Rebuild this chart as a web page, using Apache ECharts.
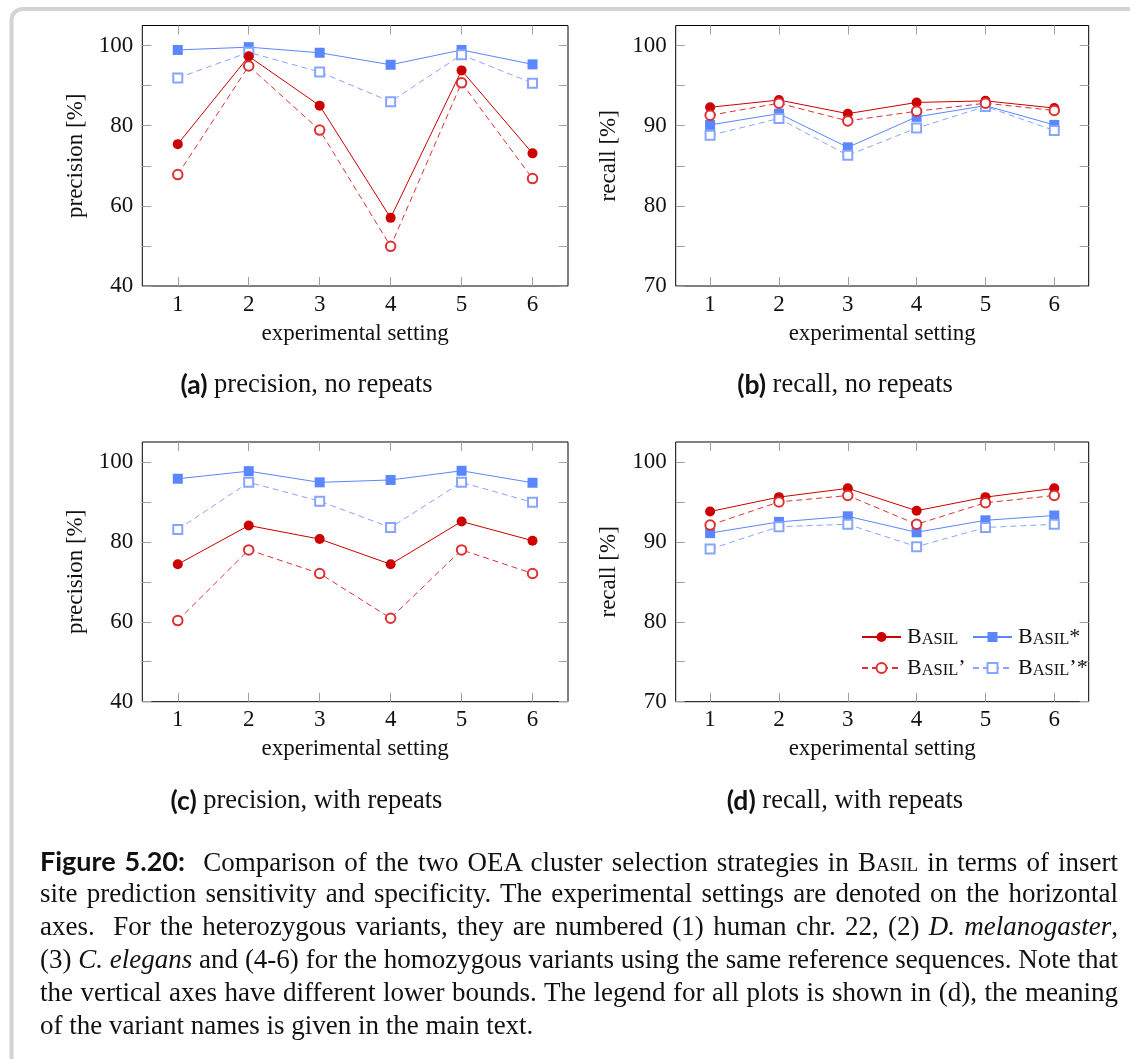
<!DOCTYPE html>
<html>
<head>
<meta charset="utf-8">
<script src="https://cdn.jsdelivr.net/npm/echarts@6/dist/echarts.min.js"></script>
<style>
  html, body { margin: 0; padding: 0; background: #fff; }
  #wrap { position: relative; width: 1130px; height: 1059px; overflow: hidden; }
  #chart { position: absolute; left: 0; top: 0; width: 1130px; height: 1059px; }
  .cap { position: absolute; left: 40px; width: 1078px; height: 33px; line-height: 33px;
         font-family: 'Liberation Serif', 'DejaVu Serif', serif; font-size: 27px; color: #111;
         white-space: nowrap; text-align: justify; text-align-last: justify; }
  .cap.last { text-align: left; text-align-last: left; }
  .fig { font-family: Lato, 'Open Sans', sans-serif; font-weight: 700; }
  .sc { font-variant: small-caps; }
</style>
</head>
<body>
<div id="wrap">
  <div id="chart"></div>
  <div class="cap" style="top:844px"><span class="fig">Figure 5.20:</span>&nbsp; Comparison of the two OEA cluster selection strategies in <span class="sc">Basil</span> in terms of insert</div>
  <div class="cap" style="top:877px">site prediction sensitivity and specificity. The experimental settings are denoted on the horizontal</div>
  <div class="cap" style="top:910px">axes.&nbsp; For the heterozygous variants, they are numbered (1) human chr. 22, (2) <i>D. melanogaster</i>,</div>
  <div class="cap" style="top:943px">(3) <i>C. elegans</i> and (4-6) for the homozygous variants using the same reference sequences. Note that</div>
  <div class="cap" style="top:976px">the vertical axes have different lower bounds. The legend for all plots is shown in (d), the meaning</div>
  <div class="cap last" style="top:1009px">of the variant names is given in the main text.</div>
</div>
<script>
// Experimental settings on the horizontal axes
const settings = ['1', '2', '3', '4', '5', '6'];

// Variant names
const variantNames = ['Basil', 'Basil*', 'Basil\u2019', 'Basil\u2019*'];

// (a) precision, no repeats
const precNoRepBasil   = [75.4, 97.3, 85.0, 57.0, 93.8, 73.1];
const precNoRepBasilP  = [67.8, 94.9, 78.9, 49.9, 90.7, 66.8];
const precNoRepBasilS  = [98.9, 99.6, 98.2, 95.2, 98.9, 95.3];
const precNoRepBasilPS = [91.9, 98.3, 93.4, 86.0, 97.7, 90.6];

// (b) recall, no repeats
const recNoRepBasil   = [92.3, 93.2, 91.5, 92.9, 93.1, 92.2];
const recNoRepBasilP  = [91.3, 92.8, 90.6, 91.8, 92.8, 91.9];
const recNoRepBasilS  = [90.1, 91.5, 87.3, 91.1, 92.5, 90.1];
const recNoRepBasilPS = [88.8, 90.9, 86.3, 89.7, 92.4, 89.4];

// (c) precision, with repeats
const precRepBasil   = [74.4, 84.1, 80.7, 74.4, 85.1, 80.3];
const precRepBasilP  = [60.3, 78.0, 72.1, 60.9, 78.0, 72.1];
const precRepBasilS  = [95.8, 97.7, 94.9, 95.5, 97.8, 94.8];
const precRepBasilPS = [83.1, 94.9, 90.2, 83.6, 94.9, 89.9];

// (d) recall, with repeats
const recRepBasil   = [93.8, 95.6, 96.7, 93.9, 95.6, 96.7];
const recRepBasilP  = [92.1, 95.0, 95.8, 92.2, 94.9, 95.8];
const recRepBasilS  = [91.1, 92.5, 93.2, 91.2, 92.7, 93.3];
const recRepBasilPS = [89.1, 91.9, 92.2, 89.4, 91.8, 92.2];

// Vertical tick positions and labelled ticks
const precTicks = [40, 50, 60, 70, 80, 90, 100];
const precLabels = [40, 60, 80, 100];
const recTicks = [70, 75, 80, 85, 90, 95, 100];
const recLabels = [70, 80, 90, 100];

const SERIF = "'Liberation Serif', 'DejaVu Serif', serif";
const SANS = "Lato, 'Open Sans', sans-serif";

const RED = '#cc0000';
const RED_LIGHT = '#dd3030';
const BLUE = '#5a87ff';
const BLUE_LIGHT = '#86a5ff';
const TICK = '#a0a0a0';

const panels = [
  { grid: { left: 142.3, top: 25.5, width: 425.7, height: 260.5 }, min: 40, max: 105,
    ticks: precTicks, labels: precLabels, yName: 'precision [%]',
    values: [precNoRepBasilS, precNoRepBasilPS, precNoRepBasil, precNoRepBasilP],
    tag: '(a)', title: ' precision, no repeats', cx: 306.5, cy: 385 },
  { grid: { left: 675.7, top: 25.5, width: 413, height: 260.5 }, min: 70, max: 102.5,
    ticks: recTicks, labels: recLabels, yName: 'recall [%]',
    values: [recNoRepBasilS, recNoRepBasilPS, recNoRepBasil, recNoRepBasilP],
    tag: '(b)', title: ' recall, no repeats', cx: 845, cy: 385 },
  { grid: { left: 142.3, top: 442, width: 425.7, height: 259.7 }, min: 40, max: 105,
    ticks: precTicks, labels: precLabels, yName: 'precision [%]',
    values: [precRepBasilS, precRepBasilPS, precRepBasil, precRepBasilP],
    tag: '(c)', title: ' precision, with repeats', cx: 306.5, cy: 801 },
  { grid: { left: 675.7, top: 442, width: 413, height: 259.7 }, min: 70, max: 102.5,
    ticks: recTicks, labels: recLabels, yName: 'recall [%]',
    values: [recRepBasilS, recRepBasilPS, recRepBasil, recRepBasilP],
    tag: '(d)', title: ' recall, with repeats', cx: 845, cy: 801 }
];

// Series styles in drawing order: Basil*, Basil'*, Basil, Basil'
const styles = [
  { name: variantNames[1], symbol: 'rect', size: 10, color: BLUE, dash: 'solid' },
  { name: variantNames[3], symbol: 'emptyRect', size: 9, color: BLUE_LIGHT, dash: [6, 4] },
  { name: variantNames[0], symbol: 'circle', size: 10, color: RED, dash: 'solid' },
  { name: variantNames[2], symbol: 'emptyCircle', size: 9.5, color: RED_LIGHT, dash: [6, 4] }
];

const tickStyle = { show: true, inside: true, length: 9, lineStyle: { color: TICK, width: 1 } };

const grids = [], xAxes = [], yAxes = [], series = [], graphics = [];

panels.forEach((p, i) => {
  grids.push(Object.assign({ show: true, borderColor: '#000', borderWidth: 1, backgroundColor: 'transparent' }, p.grid));

  const xBase = {
    type: 'category', gridIndex: i, data: settings, boundaryGap: true,
    axisLine: { show: false }, splitLine: { show: false },
    axisTick: Object.assign({ alignWithLabel: true, interval: 0 }, tickStyle)
  };
  xAxes.push(Object.assign({}, xBase, {
    position: 'bottom',
    axisLabel: { color: '#111', fontFamily: SERIF, fontSize: 23, margin: 7, interval: 0 },
    name: 'experimental setting', nameLocation: 'middle', nameGap: 36,
    nameTextStyle: { color: '#111', fontFamily: SERIF, fontSize: 23 }
  }));
  xAxes.push(Object.assign({}, xBase, { position: 'top', axisLabel: { show: false } }));

  const yBase = {
    type: 'value', gridIndex: i, min: p.min, max: p.max,
    axisLine: { show: false }, splitLine: { show: false },
    axisTick: Object.assign({ customValues: p.ticks }, tickStyle)
  };
  yAxes.push(Object.assign({}, yBase, {
    position: 'left',
    axisLabel: { customValues: p.labels, color: '#111', fontFamily: SERIF, fontSize: 23, margin: 9 },
    name: p.yName, nameLocation: 'middle', nameGap: 55,
    nameTextStyle: { color: '#111', fontFamily: SERIF, fontSize: 23 }
  }));
  yAxes.push(Object.assign({}, yBase, { position: 'right', axisLabel: { show: false } }));

  styles.forEach((s, k) => {
    const empty = s.symbol.indexOf('empty') === 0;
    series.push({
      type: 'line', name: s.name, xAxisIndex: 2 * i, yAxisIndex: 2 * i,
      data: p.values[k], symbol: s.symbol, symbolSize: s.size, showSymbol: true,
      lineStyle: { color: s.color, width: 1, type: s.dash },
      itemStyle: empty ? { color: s.color, borderColor: s.color, borderWidth: 1 }
                       : { color: s.color, borderColor: s.color, borderWidth: 0 },
      emphasis: { disabled: true }, z: 2 + k
    });
  });

  graphics.push({
    type: 'text', x: p.cx, y: p.cy, silent: true,
    style: {
      text: '{t|' + p.tag + '}' + p.title, align: 'center', verticalAlign: 'middle',
      fill: '#111', font: '26.5px ' + SERIF,
      rich: { t: { fontFamily: SANS, fontWeight: 'bold', fontSize: 26.5, fill: '#111' } }
    }
  });
});

// Page frame
graphics.unshift({
  type: 'rect', silent: true, z: -10,
  shape: { x: 11.5, y: 9, width: 1400, height: 1400, r: 11 },
  style: { fill: 'none', stroke: '#d3d3d3', lineWidth: 4 }
});

// Legend in panel (d): two rows, two columns
function smallCaps(name) {
  return '{c|' + name.charAt(0) + '}{s|' + name.slice(1, 5).toUpperCase() + '}{c|' + name.slice(5) + '}';
}
const legendRich = {
  c: { fontFamily: SERIF, fontSize: 22, lineHeight: 22, verticalAlign: 'bottom', color: '#111' },
  s: { fontFamily: SERIF, fontSize: 16.5, lineHeight: 22, verticalAlign: 'bottom', color: '#111' }
};
const legendSlots = [
  { name: variantNames[0], left: 861, top: 626 },
  { name: variantNames[1], left: 972, top: 626 },
  { name: variantNames[2], left: 861, top: 657 },
  { name: variantNames[3], left: 972, top: 657 }
];
const legends = legendSlots.map(l => ({
  data: [l.name], left: l.left, top: l.top, padding: 0, itemGap: 0,
  itemWidth: 39, itemHeight: 12.5, selectedMode: false, formatter: smallCaps,
  textStyle: { rich: legendRich, padding: [0, 0, 0, 1] }
}));

const chart = echarts.init(document.getElementById('chart'), null, { renderer: 'canvas' });
chart.setOption({
  animation: false,
  backgroundColor: '#fff',
  grid: grids, xAxis: xAxes, yAxis: yAxes, series: series,
  legend: legends, graphic: graphics
});
</script>
</body>
</html>
